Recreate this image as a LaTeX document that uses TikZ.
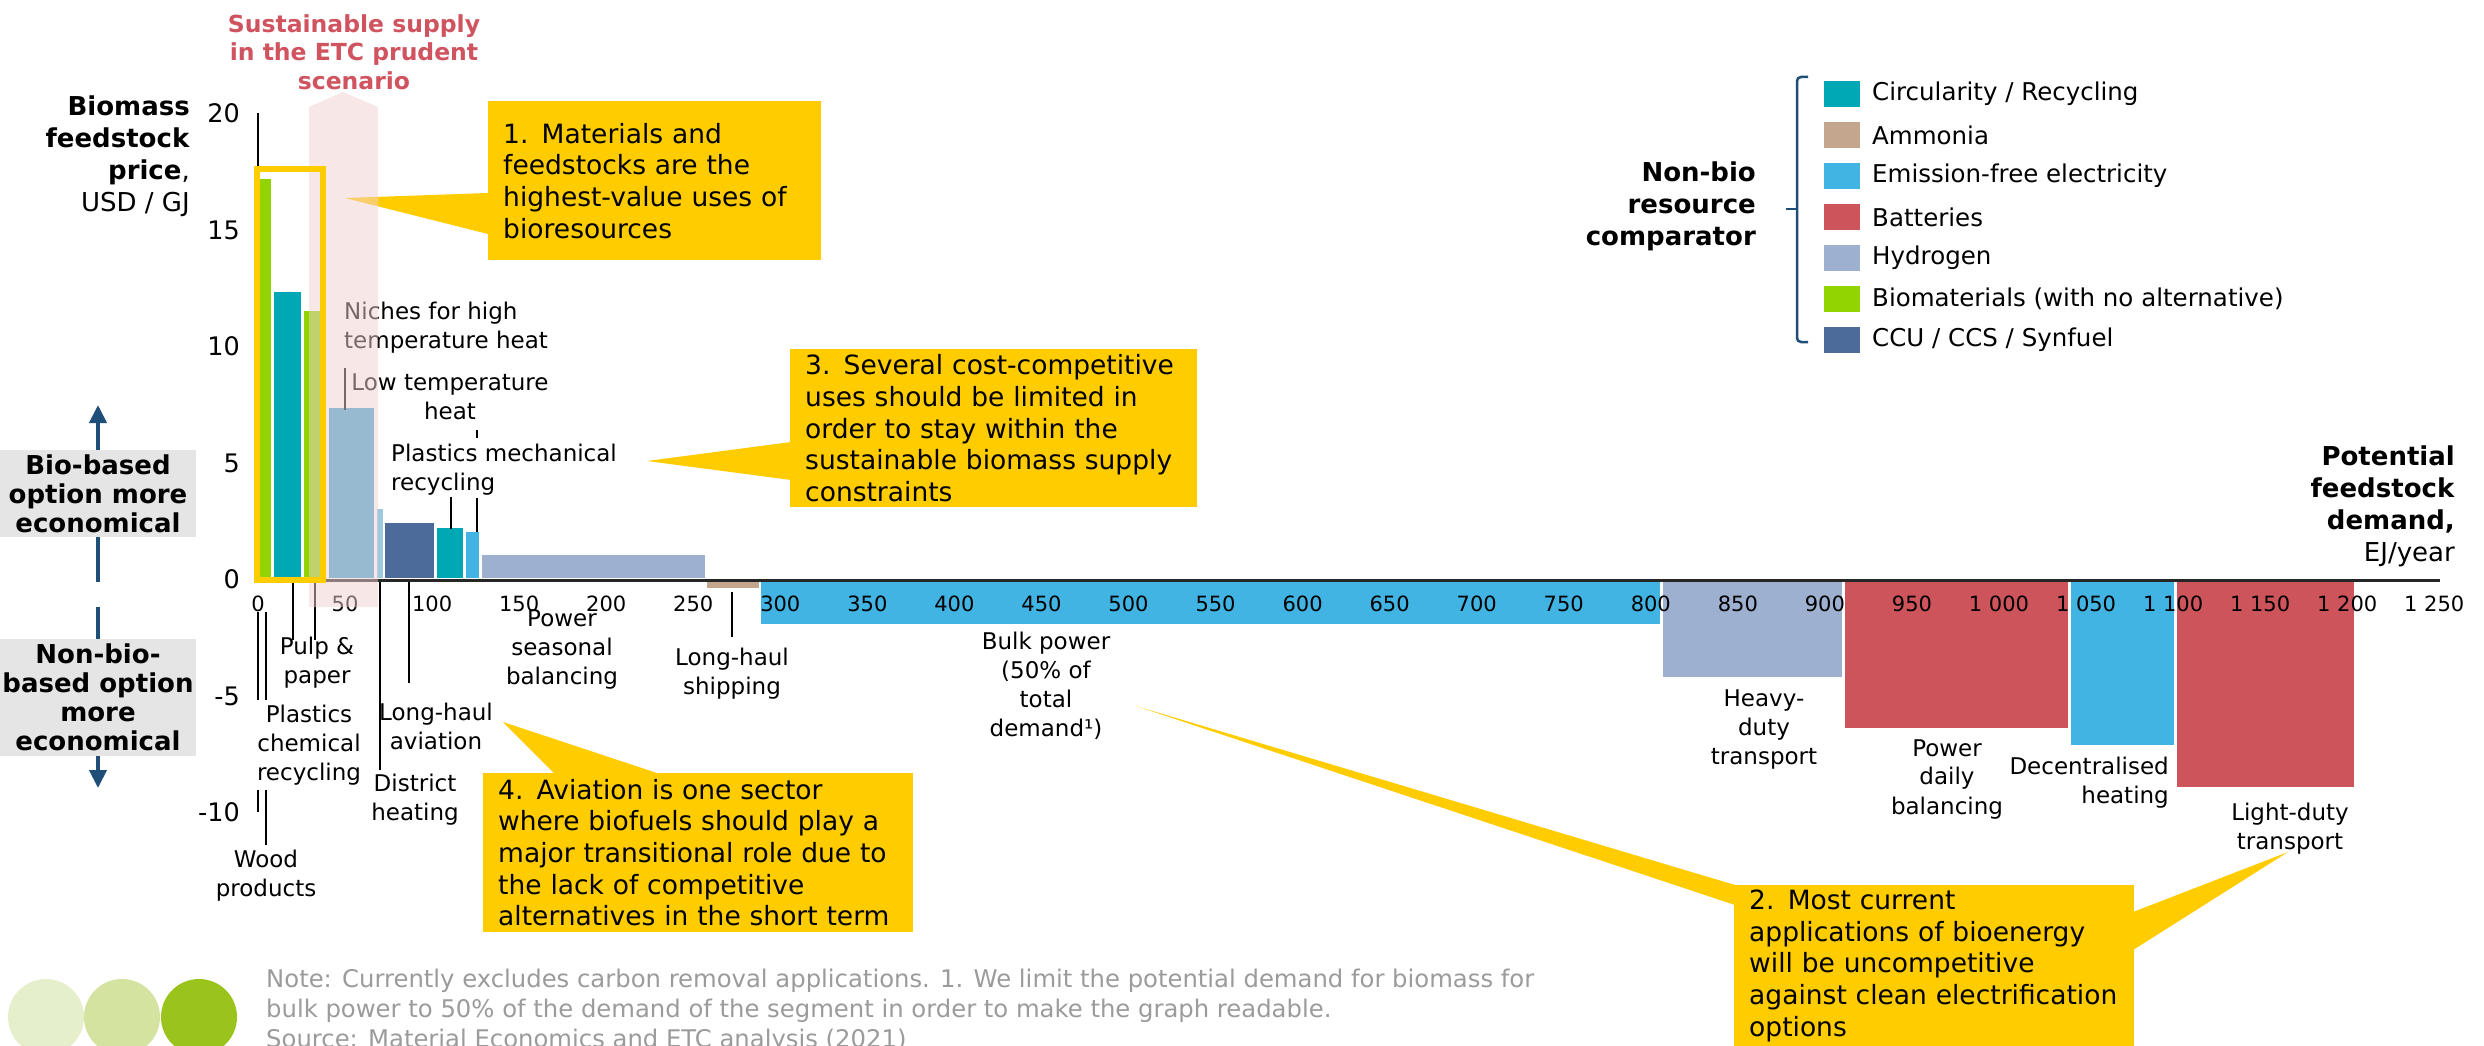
\documentclass[tikz,border=0pt]{standalone}
\usepackage{fontspec}
\setmainfont{DejaVu Sans}
\usetikzlibrary{arrows.meta}
\definecolor{cTeal}{HTML}{00A7B5}
\definecolor{cAmmo}{HTML}{C4A68F}
\definecolor{cElec}{HTML}{41B4E4}
\definecolor{cBatt}{HTML}{CD545B}
\definecolor{cHyd}{HTML}{9DB0CF}
\definecolor{cBio}{HTML}{92D400}
\definecolor{cCCU}{HTML}{4C6A9A}
\definecolor{cNiche}{HTML}{3FA3D3}
\definecolor{cSliver}{HTML}{9DC8E0}
\definecolor{cYel}{HTML}{FFCC00}
\definecolor{cNavy}{HTML}{1F4E79}
\definecolor{cBand}{HTML}{F1D1D1}
\definecolor{cTitle}{HTML}{D05460}
\definecolor{cGreyBox}{HTML}{E5E5E5}
\definecolor{cNote}{HTML}{9B9B9B}
\definecolor{cCa}{HTML}{E6EFCB}
\definecolor{cCb}{HTML}{D5E3A0}
\definecolor{cCc}{HTML}{9AC31C}
\newcommand\fsLbl{\fontsize{23}{29}\selectfont}
\newcommand\fsCall{\fontsize{26.5}{31.7}\selectfont}
\newcommand\fsLeg{\fontsize{24.5}{30}\selectfont}
\newcommand\fsXtick{\fontsize{21}{26}\selectfont}
\newcommand\fsYtick{\fontsize{25.5}{30}\selectfont}
\newcommand\fsGbox{\fontsize{26}{29}\selectfont\bfseries}
\newcommand\fsAxT{\fontsize{26}{32}\selectfont}
\newcommand\fsTitleTop{\fontsize{23.5}{28.5}\selectfont\bfseries}
\newcommand\fsNote{\fontsize{24.3}{30}\selectfont}
\begin{document}
\begin{tikzpicture}[x=1pt,y=-1pt,
  lbl/.style={inner sep=0pt, align=center, font=\fsLbl},
  lead/.style={draw=black, line width=1.6pt},
  callbox/.style={fill=cYel, anchor=north west, inner xsep=15pt, inner ysep=0pt, align=left, font=\fsCall},
  tail/.style={fill=cYel},
  legsq/.style={minimum width=36pt, minimum height=26pt, inner sep=0pt},
  legtx/.style={anchor=west, inner sep=0pt, font=\fsLeg},
  xtick/.style={inner sep=0pt, font=\fsXtick},
  ytick/.style={anchor=east, inner sep=0pt, font=\fsYtick},
  gbox/.style={fill=cGreyBox, inner sep=0pt, align=center, font=\fsGbox, minimum width=196pt},
  dirarrow/.style={cNavy, line width=4pt, -{Triangle[length=18pt,width=17pt]}},
]
\useasboundingbox (0,0) rectangle (2484,1046);
\fill[white] (0,0) rectangle (2484,1046);

% direction arrows and grey boxes
\coordinate (upS) at (98,582); \coordinate (upE) at (98,405);
\coordinate (dnS) at (98,607); \coordinate (dnE) at (98,788);
\draw[dirarrow] (upS) -- (upE);
\draw[dirarrow] (dnS) -- (dnE);
\node[gbox, minimum height=87pt] (biobox) at (98,493.5) {Bio-based\\option more\\economical};
\node[gbox, minimum height=117pt] (nonbiobox) at (98,697.5) {Non-bio-\\based option\\more\\economical};

% bars above axis
\fill[cBio] (260,179) rectangle (271,578);
\fill[cTeal] (274,292) rectangle (301,578);
\fill[cBio] (304,311) rectangle (321,578);
\fill[cNiche] (329,408) rectangle (374,578);
\fill[cSliver] (377,509) rectangle (383,578);
\fill[cCCU] (385,523) rectangle (434,578);
\fill[cTeal] (437,528) rectangle (463,578);
\fill[cElec] (466,532) rectangle (479,578);
\fill[cHyd] (482,555) rectangle (705,578);
% bars below axis
\fill[cAmmo] (707,582) rectangle (759,588);
\fill[cElec] (761,582) rectangle (1660,624);
\fill[cHyd] (1663,582) rectangle (1842,677);
\fill[cBatt] (1845,582) rectangle (2068,728);
\fill[cElec] (2071,582) rectangle (2174,745);
\fill[cBatt] (2177,582) rectangle (2354,787);

% axes
\draw[black!85, line width=3pt] (258,580) -- (2440,580);
\draw[black, line width=2pt] (258,113) -- (258,580);
\draw[black, line width=2pt] (258,612) -- (258,700);
\draw[black, line width=2pt] (258,790) -- (258,812);

% y tick labels
\foreach \v/\yy in {20/113,15/230,10/346,5/463,0/579,-5/696,-10/812}
  \node[ytick] (yt\v) at (240,\yy) {\v};
% x tick labels
\foreach \v/\t in {0/0,50/50,100/100,150/150,200/200,250/250,300/300,350/350,400/400,450/450,500/500,550/550,600/600,650/650,700/700,750/750,800/800,850/850,900/900,950/950,1000/1 000,1050/1 050,1100/1 100,1150/1 150,1200/1 200,1250/1 250}
  \node[xtick] (xt\v) at ({258+1.741*\v},604) {\t};

% leader lines
\draw[lead] (345,368) -- (345,410);
\draw[lead] (477,430) -- (477,438);
\draw[lead] (477,498) -- (477,532);
\draw[lead] (451,497) -- (451,529);
\draw[lead] (266,612) -- (266,700);
\draw[lead] (266,790) -- (266,845);
\draw[lead] (293,582) -- (293,640);
\draw[lead] (315,582) -- (315,640);
\draw[lead] (380,582) -- (380,770);
\draw[lead] (409,582) -- (409,683);
\draw[lead] (732,592) -- (732,637);

% category labels
\node[lbl, anchor=west, align=left] (niches) at (344,328) {Niches for high\\temperature heat};
\node[lbl] (lowtemp) at (450,397) {Low temperature\\heat};
\node[lbl, anchor=west, align=left] (plasmech) at (391,470) {Plastics mechanical\\recycling};
\node[lbl] (pulp) at (317,663) {Pulp \&\\paper};
\node[lbl] (plaschem) at (309,745) {Plastics\\chemical\\recycling};
\node[lbl] (wood) at (266,876) {Wood\\products};
\node[lbl] (aviation) at (436,726) {Long-haul\\aviation};
\node[lbl] (district) at (415,800) {District\\heating};
\node[lbl] (seasonal) at (562,650) {Power\\seasonal\\balancing};
\node[lbl] (shipping) at (732,674) {Long-haul\\shipping};
\node[lbl] (bulk) at (1046,686) {Bulk power\\(50\% of\\total\\demand¹)};
\node[lbl] (heavy) at (1764,730) {Heavy-\\duty\\transport};
\node[lbl] (daily) at (1947,779) {Power\\daily\\balancing};
\node[lbl, anchor=east, align=right] (decentral) at (2169,783) {Decentralised\\heating};
\node[lbl] (lightduty) at (2290,829) {Light-duty\\transport};

% callouts
\node[callbox, minimum width=333pt, minimum height=159pt, text width=303pt] (call1) at (488,101)
  {1. Materials and\\feedstocks are the\\highest-value uses of\\bioresources};
\coordinate (tip1) at (345,198);
\fill[tail] (488,193) -- (tip1) -- (488,234) -- cycle;

\node[callbox, minimum width=407pt, minimum height=158pt, text width=377pt] (call3) at (790,349)
  {3. Several cost-competitive\\uses should be limited in\\order to stay within the\\sustainable biomass supply\\constraints};
\coordinate (tip3) at (647,461);
\fill[tail] (791,442) -- (tip3) -- (791,480) -- cycle;

\node[callbox, minimum width=430pt, minimum height=159pt, text width=400pt] (call4) at (483,773)
  {4. Aviation is one sector\\where biofuels should play a\\major transitional role due to\\the lack of competitive\\alternatives in the short term};
\coordinate (tip4) at (503,722);
\fill[tail] (555,774) -- (tip4) -- (660,774) -- cycle;

\node[callbox, minimum width=400pt, minimum height=161pt, text width=370pt] (call2) at (1734,885)
  {2. Most current\\applications of bioenergy\\will be uncompetitive\\against clean electrification\\options};
\coordinate (tip2a) at (1136,706);
\coordinate (tip2b) at (2288,852);
\fill[tail] (1735,885) -- (tip2a) -- (1735,905) -- cycle;
\fill[tail] (2133,912) -- (tip2b) -- (2133,950) -- cycle;

% sustainable supply band
\fill[cBand, opacity=0.5] (309,107) -- (343,92) -- (378,107) -- (378,607) -- (309,607) -- cycle;
% yellow frame
\draw[cYel, line width=6pt] (257,169) rectangle (323,580);

% titles
\node[inner sep=0pt, align=center, font=\fsTitleTop, text=cTitle] (suptitle) at (354,52)
  {Sustainable supply\\in the ETC prudent\\scenario};
\node[inner sep=0pt, anchor=east, align=right, font=\fsAxT] (ytitle) at (190,156)
  {\textbf{Biomass}\\\textbf{feedstock}\\\textbf{price},\\USD / GJ};
\node[inner sep=0pt, anchor=east, align=right, font=\fsAxT] (xtitle) at (2455,506)
  {\textbf{Potential}\\\textbf{feedstock}\\\textbf{demand,}\\EJ/year};

% legend
\node[inner sep=0pt, anchor=east, align=right, font=\fsAxT\bfseries] (legtitle) at (1756,206)
  {Non-bio\\resource\\comparator};
\draw[cNavy, line width=2.5pt, rounded corners=4pt] (1808,77) -- (1797,77) -- (1797,342) -- (1808,342);
\draw[cNavy, line width=2.5pt] (1797,209) -- (1786,209);
\node[legsq, fill=cTeal] (lq1) at (1842,94) {};
\node[legtx] (lt1) at (1872,94) {Circularity / Recycling};
\node[legsq, fill=cAmmo] (lq2) at (1842,135) {};
\node[legtx] (lt2) at (1872,135) {Ammonia};
\node[legsq, fill=cElec] (lq3) at (1842,176) {};
\node[legtx] (lt3) at (1872,176) {Emission-free electricity};
\node[legsq, fill=cBatt] (lq4) at (1842,217) {};
\node[legtx] (lt4) at (1872,217) {Batteries};
\node[legsq, fill=cHyd] (lq5) at (1842,258) {};
\node[legtx] (lt5) at (1872,258) {Hydrogen};
\node[legsq, fill=cBio] (lq6) at (1842,299) {};
\node[legtx] (lt6) at (1872,299) {Biomaterials (with no alternative)};
\node[legsq, fill=cCCU] (lq7) at (1842,340) {};
\node[legtx] (lt7) at (1872,340) {CCU / CCS / Synfuel};

% footer
\fill[cCa] (46,1017) circle (38pt);
\fill[cCb] (122,1017) circle (38pt);
\fill[cCc] (199,1017) circle (38pt);
\node[inner sep=0pt, anchor=west, align=left, font=\fsNote, text=cNote] (note) at (266,1011)
  {Note: Currently excludes carbon removal applications. 1. We limit the potential demand for biomass for\\bulk power to 50\% of the demand of the segment in order to make the graph readable.\\Source: Material Economics and ETC analysis (2021)};
\end{tikzpicture}
\end{document}
